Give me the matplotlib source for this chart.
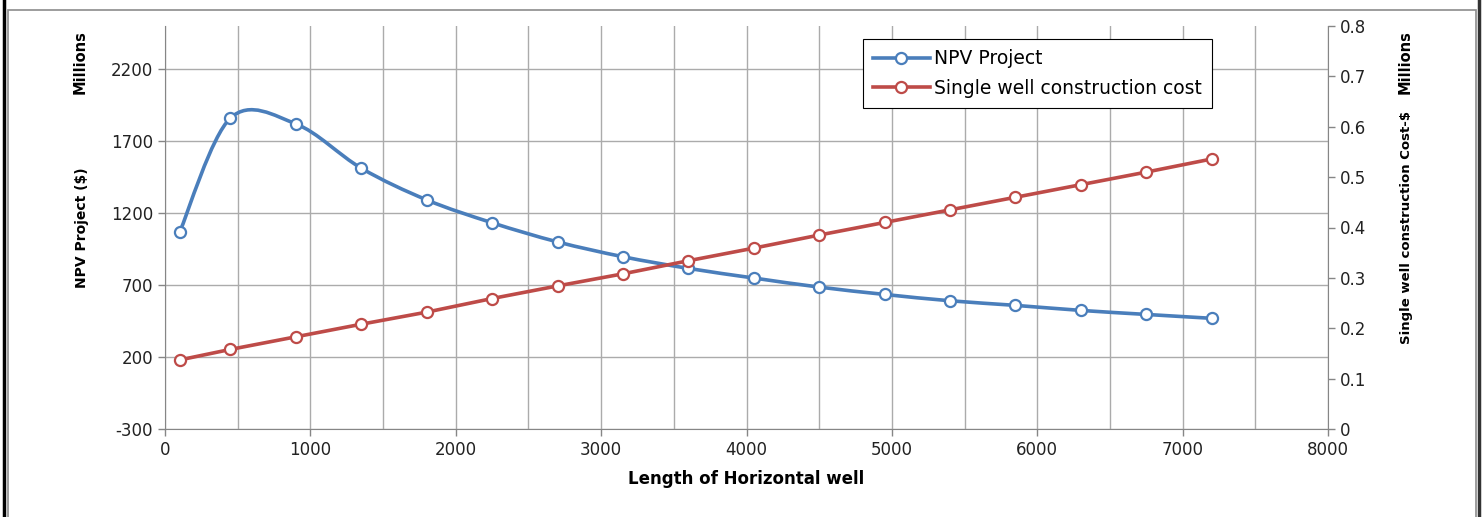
import matplotlib
matplotlib.use('Agg')
import matplotlib.pyplot as plt
from matplotlib.path import Path
from matplotlib.patches import PathPatch, Rectangle
from matplotlib.lines import Line2D

plt.rcParams['axes.unicode_minus'] = False

# data
length = [100, 450, 900, 1350, 1800, 2250, 2700, 3150, 3600, 4050,
          4500, 4950, 5400, 5850, 6300, 6750, 7200]
npv = [1066, 1860, 1820, 1512, 1292, 1133, 1000, 897, 816, 749,
       686, 635, 591, 559, 524, 496, 469]
cost = [0.137, 0.158, 0.183, 0.208, 0.232, 0.259, 0.284, 0.308, 0.334, 0.359,
        0.385, 0.410, 0.435, 0.460, 0.485, 0.510, 0.536]

left_ticks = [-300, 200, 700, 1200, 1700, 2200]
right_ticks = [0, 0.1, 0.2, 0.3, 0.4, 0.5, 0.6, 0.7, 0.8]
right_labels = ['0', '0.1', '0.2', '0.3', '0.4', '0.5', '0.6', '0.7', '0.8']
x_ticks = [0, 1000, 2000, 3000, 4000, 5000, 6000, 7000, 8000]
series_names = ['NPV Project', 'Single well construction cost']

blue = '#4A7EBB'
red = '#BE4B48'
grid_c = '#ABABAB'
axis_c = '#868686'


def smooth_path(xs, ys):
    # excel-like smoothed line: bezier segments through the points
    pts = list(zip(xs, ys))
    verts = [pts[0]]
    codes = [Path.MOVETO]
    n = len(pts)
    for i in range(n - 1):
        p0 = pts[i - 1] if i > 0 else pts[i]
        p1 = pts[i]
        p2 = pts[i + 1]
        p3 = pts[i + 2] if i + 2 < n else pts[i + 1]
        c1 = (p1[0] + (p2[0] - p0[0]) / 6, p1[1] + (p2[1] - p0[1]) / 6)
        c2 = (p2[0] - (p3[0] - p1[0]) / 6, p2[1] - (p3[1] - p1[1]) / 6)
        verts += [c1, c2, p2]
        codes += [Path.CURVE4] * 3
    return Path(verts, codes)


fig = plt.figure(figsize=(14.83, 5.17), dpi=100)
ax = fig.add_axes([165 / 1483, 1 - 429 / 517, (1328 - 165) / 1483, (429 - 26) / 517])

# outer chart frame
fig.patches.append(Rectangle((8 / 1483, -0.05), 1468 / 1483, 1.05 - 10 / 517,
                             transform=fig.transFigure, fill=False,
                             edgecolor='#8C8C8C', lw=1.2))
fig.add_artist(Line2D([4 / 1483, 4 / 1483], [0, 1], color='black', lw=2.5))
fig.add_artist(Line2D([1479 / 1483, 1479 / 1483], [0, 1], color='#333333', lw=2.5))

ax.set_xlim(0, 8000)
ax.set_ylim(-300, 2500)
ax.set_xticks(x_ticks)
ax.set_xticks(range(500, 8000, 1000), minor=True)
ax.set_yticks(left_ticks)
ax.grid(True, which='both', axis='x', color=grid_c, lw=1)
ax.grid(True, which='major', axis='y', color=grid_c, lw=1)
ax.set_axisbelow(True)
ax.tick_params(axis='x', which='minor', length=0)
ax.tick_params(axis='both', which='major', labelsize=12, colors=axis_c,
               labelcolor='#222222', length=5, width=1)
for s in ['top', 'right']:
    ax.spines[s].set_visible(False)
for s in ['left', 'bottom']:
    ax.spines[s].set_color(axis_c)

ax.add_patch(PathPatch(smooth_path(length, npv), fill=False, edgecolor=blue,
                       lw=2.6, capstyle='round', joinstyle='round', zorder=3))
ax.plot(length, npv, 'o', color=blue, mfc='white', mec=blue, ms=8, mew=1.6, zorder=4)

ax2 = ax.twinx()
ax2.set_ylim(0, 0.8)
ax2.set_yticks(right_ticks)
ax2.set_yticklabels(right_labels)
ax2.plot(length, cost, '-o', color=red, lw=2.6, mfc='white', mec=red, ms=8, mew=1.6)
ax2.tick_params(axis='y', labelsize=12, colors=axis_c, labelcolor='#222222',
                length=5, width=1)
for s in ['top', 'left', 'bottom']:
    ax2.spines[s].set_visible(False)
ax2.spines['right'].set_color(axis_c)

ax.set_xlabel('Length of Horizontal well', fontsize=12, fontweight='bold', labelpad=8)
ax.set_ylabel('NPV Project ($)', fontsize=10, fontweight='bold', labelpad=16)
ax2.set_ylabel('Single well construction Cost-$', fontsize=9.5, fontweight='bold', labelpad=24)
fig.text(80 / 1483, 1 - 62 / 517, 'Millions', rotation=90, fontsize=10.5,
         fontweight='bold', ha='center', va='center')
fig.text(1405 / 1483, 1 - 62 / 517, 'Millions', rotation=90, fontsize=10.5,
         fontweight='bold', ha='center', va='center')

# legend with line+marker samples
handles = [Line2D([], [], color=blue, lw=2.6, marker='o', mfc='white', mec=blue, ms=8, mew=1.6),
           Line2D([], [], color=red, lw=2.6, marker='o', mfc='white', mec=red, ms=8, mew=1.6)]
leg = fig.legend(handles, series_names,
                 loc='upper left', bbox_to_anchor=(863 / 1483, 1 - 39 / 517),
                 borderaxespad=0, fontsize=13.5, frameon=True, fancybox=False,
                 framealpha=1, edgecolor='black', handlelength=3.0,
                 borderpad=0.55, labelspacing=0.55, handletextpad=0.25)
leg.get_frame().set_linewidth(0.8)

fig.savefig('out.png', dpi=100)
